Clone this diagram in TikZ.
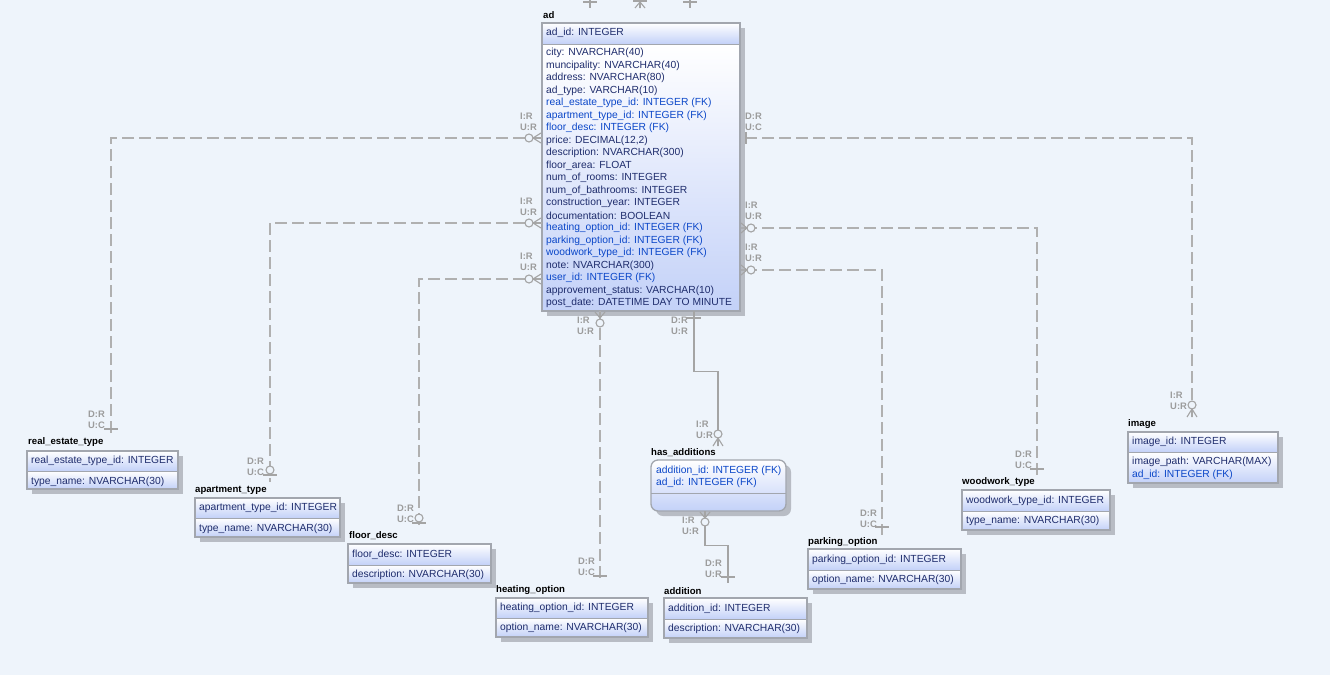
\documentclass[tikz,border=0pt]{standalone}
\usepackage{fontspec}
\setmainfont{Liberation Sans}
\usetikzlibrary{fit}

\definecolor{bgc}{HTML}{EEF4FB}
\definecolor{fldc}{HTML}{1E2C6C}
\definecolor{fkc}{HTML}{0A46C8}
\definecolor{cardc}{HTML}{9C9C9C}
\definecolor{relc}{HTML}{B0B0B0}
\definecolor{idc}{HTML}{A4A4A4}
\definecolor{boxc}{HTML}{A2A6AE}
\definecolor{boxlo}{HTML}{C3D1F8}
\definecolor{shadowc}{HTML}{B8BCC4}

% one entity box: name, left, top, right, divider, bottom
\newcommand\erbox[6]{%
  \fill[shadowc] ({#2+5},{#3+5}) rectangle ({#4+5},{#6+5});
  \shade[top color=white,bottom color=boxlo] (#2,#3) rectangle (#4,#5);
  \shade[top color=white,bottom color=boxlo] (#2,#5) rectangle (#4,#6);
  \draw[boxc, line width=1pt] (#2,#5) -- (#4,#5);
  \draw[boxc, line width=1.3pt] (#2,#3) rectangle (#4,#6);
  \coordinate (#1-nw) at (#2,#3);
  \coordinate (#1-se) at (#4,#6);
  \node[fit=(#1-nw)(#1-se), inner sep=0pt] (#1) {};
}
% crow's foot, horizontal: apex x, y, fan x
\newcommand\crowh[3]{\draw[sym] (#1,#2) -- (#3,{#2-5}) (#1,#2) -- (#3,#2) (#1,#2) -- (#3,{#2+5});}
% crow's foot, vertical: x, apex y, fan y
\newcommand\crowv[3]{\draw[sym] (#1,#2) -- ({#1-5},#3) (#1,#2) -- (#1,#3) (#1,#2) -- ({#1+5},#3);}
% open circle
\newcommand\ring[2]{\draw[sym, fill=bgc] (#1,#2) circle[radius=4pt];}
% bar across a vertical line / a horizontal line
\newcommand\barh[2]{\draw[sym] ({#1-7},#2) -- ({#1+7},#2);}
\newcommand\barv[2]{\draw[sym] (#1,{#2-6}) -- (#1,{#2+6});}
% pair of cardinality labels
\newcommand\cards[4]{\node[card] at (#1,#2) {#3}; \node[card] at (#1,{#2+11}) {#4};}

\begin{document}
\begin{tikzpicture}[x=1pt,y=-1pt,
  fld/.style={anchor=west, inner sep=0pt, text=fldc, font=\fontsize{10.3}{12}\selectfont},
  fk/.style={fld, text=fkc},
  ttl/.style={anchor=west, inner sep=0pt, text=black, font=\bfseries\fontsize{9.6}{11}\selectfont},
  card/.style={anchor=west, inner sep=0pt, text=cardc, font=\bfseries\fontsize{9.4}{10}\selectfont},
  rel/.style={draw=relc, line width=1.3pt, dash pattern=on 12pt off 5pt},
  idrel/.style={draw=idc, line width=1.2pt},
  sym/.style={draw=idc, line width=1.1pt}]
\useasboundingbox (0,0) rectangle (1330,675);
\fill[bgc] (0,0) rectangle (1330,675);

% ---------- entity boxes ----------
\erbox{ad}{542}{23}{740}{44}{311}
\erbox{ret}{27}{451}{178}{471}{489}
\erbox{apt}{195}{498}{340}{518}{537}
\erbox{fdesc}{348}{544}{491}{565}{583}
\erbox{heat}{496}{598}{648}{618}{637}
\erbox{addn}{664}{598}{807}{619}{638}
\erbox{park}{808}{549}{961}{570}{589}
\erbox{wood}{962}{490}{1110}{511}{530}
\erbox{img}{1128}{432}{1278}{452}{483}

% has_additions: rounded box
\fill[shadowc, rounded corners=7pt] (656,465) rectangle (791,516);
\shade[top color=white,bottom color=boxlo, rounded corners=7pt] (651,460) rectangle (786,511);
\draw[boxc, line width=1pt] (651,493) -- (786,493);
\draw[boxc, line width=1.3pt, rounded corners=7pt] (651,460) rectangle (786,511);
\coordinate (hasadd-nw) at (651,460);
\coordinate (hasadd-se) at (786,511);
\node[fit=(hasadd-nw)(hasadd-se), inner sep=0pt] (hasadd) {};

% ---------- titles ----------
\node[ttl] (t-ad) at (543,15) {ad};
\node[ttl] (t-ret) at (28,442) {real\_estate\_type};
\node[ttl] (t-apt) at (195,490) {apartment\_type};
\node[ttl] (t-fdesc) at (349,536) {floor\_desc};
\node[ttl] (t-heat) at (496,590) {heating\_option};
\node[ttl] (t-hasadd) at (651,453) {has\_additions};
\node[ttl] (t-addn) at (664,591) {addition};
\node[ttl] (t-park) at (808,542) {parking\_option};
\node[ttl] (t-wood) at (962,482) {woodwork\_type};
\node[ttl] (t-img) at (1128,424) {image};

% ---------- fields ----------
\node[fld] (ad-k) at (546,33) {ad\_id: INTEGER};
\node[fld] (ad-f1) at (546,53) {city: NVARCHAR(40)};
\node[fld] (ad-f2) at (546,65.5) {muncipality: NVARCHAR(40)};
\node[fld] (ad-f3) at (546,78) {address: NVARCHAR(80)};
\node[fld] (ad-f4) at (546,90.5) {ad\_type: VARCHAR(10)};
\node[fk]  (ad-f5) at (546,103) {real\_estate\_type\_id: INTEGER (FK)};
\node[fk]  (ad-f6) at (546,115.5) {apartment\_type\_id: INTEGER (FK)};
\node[fk]  (ad-f7) at (546,128) {floor\_desc: INTEGER (FK)};
\node[fld] (ad-f8) at (546,140.5) {price: DECIMAL(12,2)};
\node[fld] (ad-f9) at (546,153) {description: NVARCHAR(300)};
\node[fld] (ad-f10) at (546,165.5) {floor\_area: FLOAT};
\node[fld] (ad-f11) at (546,178) {num\_of\_rooms: INTEGER};
\node[fld] (ad-f12) at (546,190.5) {num\_of\_bathrooms: INTEGER};
\node[fld] (ad-f13) at (546,203) {construction\_year: INTEGER};
\node[fld] (ad-f14) at (546,215.5) {documentation: BOOLEAN};
\node[fk]  (ad-f15) at (546,228) {heating\_option\_id: INTEGER (FK)};
\node[fk]  (ad-f16) at (546,240.5) {parking\_option\_id: INTEGER (FK)};
\node[fk]  (ad-f17) at (546,253) {woodwork\_type\_id: INTEGER (FK)};
\node[fld] (ad-f18) at (546,265.5) {note: NVARCHAR(300)};
\node[fk]  (ad-f19) at (546,278) {user\_id: INTEGER (FK)};
\node[fld] (ad-f20) at (546,290.5) {approvement\_status: VARCHAR(10)};
\node[fld] (ad-f21) at (546,303) {post\_date: DATETIME DAY TO MINUTE};

\node[fld] (ret-k) at (31,461) {real\_estate\_type\_id: INTEGER};
\node[fld] (ret-f1) at (31,481.5) {type\_name: NVARCHAR(30)};
\node[fld] (apt-k) at (199,508) {apartment\_type\_id: INTEGER};
\node[fld] (apt-f1) at (199,528.5) {type\_name: NVARCHAR(30)};
\node[fld] (fdesc-k) at (352,555) {floor\_desc: INTEGER};
\node[fld] (fdesc-f1) at (352,575) {description: NVARCHAR(30)};
\node[fld] (heat-k) at (500,608) {heating\_option\_id: INTEGER};
\node[fld] (heat-f1) at (500,628) {option\_name: NVARCHAR(30)};
\node[fk]  (hasadd-k1) at (656,471) {addition\_id: INTEGER (FK)};
\node[fk]  (hasadd-k2) at (656,483) {ad\_id: INTEGER (FK)};
\node[fld] (addn-k) at (668,609) {addition\_id: INTEGER};
\node[fld] (addn-f1) at (668,629) {description: NVARCHAR(30)};
\node[fld] (park-k) at (812,560) {parking\_option\_id: INTEGER};
\node[fld] (park-f1) at (812,580) {option\_name: NVARCHAR(30)};
\node[fld] (wood-k) at (966,501) {woodwork\_type\_id: INTEGER};
\node[fld] (wood-f1) at (966,521) {type\_name: NVARCHAR(30)};
\node[fld] (img-k) at (1132,442) {image\_id: INTEGER};
\node[fld] (img-f1) at (1132,462) {image\_path: VARCHAR(MAX)};
\node[fk]  (img-f2) at (1132,475) {ad\_id: INTEGER (FK)};

% ---------- line ends near the referenced boxes ----------
\coordinate (e-ret) at (111,433);
\coordinate (e-apt) at (270,482);
\coordinate (e-fdesc) at (419,530);
\coordinate (e-heat) at (600,581);
\coordinate (e-hasadd) at (718,446);
\coordinate (e-addn) at (728,583);
\coordinate (e-park) at (882,535);
\coordinate (e-wood) at (1037,475);
\coordinate (e-img) at (1192,417);

% ---------- relationships ----------
\draw[rel] (ad.west |- 0,138) -| (e-ret);
\draw[rel] (ad.west |- 0,223) -| (e-apt);
\draw[rel] (ad.west |- 0,279) -| (e-fdesc);
\draw[rel] (ad.south -| 600,0) -- (e-heat);
\draw[idrel] (ad.south -| 694,0) -- ++(0,60) -| (e-hasadd);
\draw[idrel] (hasadd.south -| 705,0) -- ++(0,34) -| (e-addn);
\draw[rel] ([xshift=5pt]ad.east |- 0,270) -| (e-park);
\draw[rel] ([xshift=5pt]ad.east |- 0,228) -| (e-wood);
\draw[rel] ([xshift=5pt]ad.east |- 0,138) -| (e-img);

% relationships leaving the top edge
\coordinate (top-a) at (590,-6);
\coordinate (top-b) at (640,-6);
\coordinate (top-c) at (690,-6);
\draw[idrel] (top-a) -- ++(0,14);
\draw[idrel] (top-b) -- ++(0,14);
\draw[idrel] (top-c) -- ++(0,14);
\barh{590}{2}
\barh{640}{1}
\crowv{640}{2}{8}
\barh{690}{2}

% ---------- end symbols ----------
% ad side
\crowh{533}{138}{541} \ring{529}{138}
\crowh{533}{223}{541} \ring{529}{223}
\crowh{533}{279}{541} \ring{529}{279}
\crowh{747}{228}{741} \ring{751}{228}
\crowh{747}{270}{741} \ring{751}{270}
\barv{746}{138}
\crowv{600}{318}{312} \ring{600}{323}
\barh{694}{318}
% referenced side
\barh{111}{429}
\ring{270}{470} \barh{270}{475}
\ring{419}{518} \barh{419}{523}
\barh{600}{576}
\ring{718}{434} \crowv{718}{438}{446}
\crowv{705}{518}{512} \ring{705}{522}
\barh{728}{577}
\barh{882}{527}
\barh{1037}{469}
\ring{1192}{405} \crowv{1192}{409}{417}

% ---------- cardinality labels ----------
\cards{520}{116}{I:R}{U:R}
\cards{520}{201}{I:R}{U:R}
\cards{520}{256}{I:R}{U:R}
\cards{745}{116}{D:R}{U:C}
\cards{745}{205}{I:R}{U:R}
\cards{745}{247}{I:R}{U:R}
\cards{577}{320}{I:R}{U:R}
\cards{671}{320}{D:R}{U:R}
\cards{696}{424}{I:R}{U:R}
\cards{682}{520}{I:R}{U:R}
\cards{705}{563}{D:R}{U:R}
\cards{88}{414}{D:R}{U:C}
\cards{247}{461}{D:R}{U:C}
\cards{397}{508}{D:R}{U:C}
\cards{578}{561}{D:R}{U:C}
\cards{860}{513}{D:R}{U:C}
\cards{1015}{454}{D:R}{U:C}
\cards{1170}{395}{I:R}{U:R}
\end{tikzpicture}
\end{document}
